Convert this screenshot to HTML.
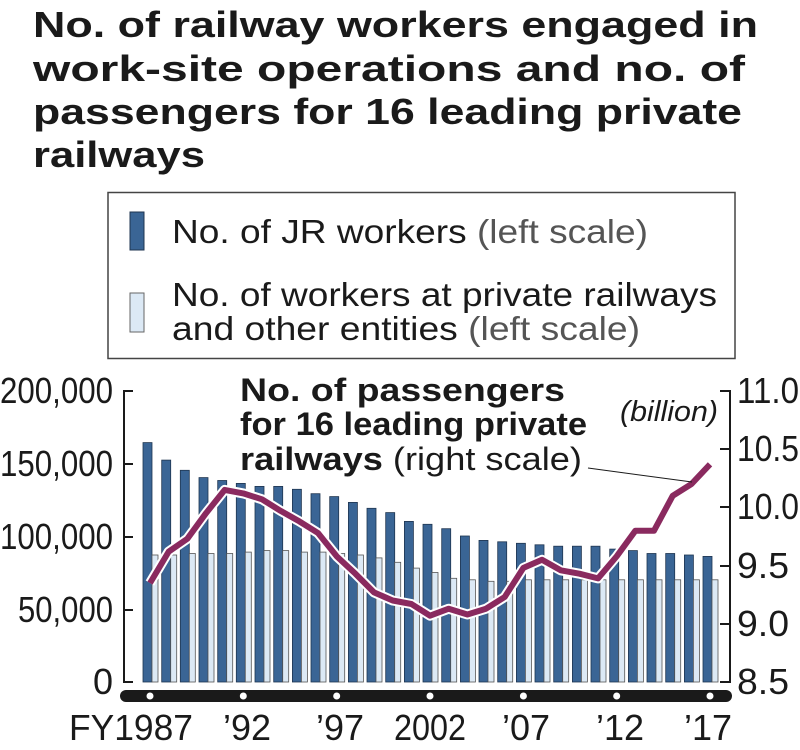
<!DOCTYPE html>
<html><head><meta charset="utf-8"><style>
html,body{margin:0;padding:0;background:#fff;}
svg{display:block;font-family:"Liberation Sans",Arial,sans-serif;}
</style></head><body>
<svg width="800" height="750" viewBox="0 0 800 750" xmlns="http://www.w3.org/2000/svg">
<g font-weight="bold" font-size="36" fill="#1a1a1a">
<text x="33" y="37" textLength="725" lengthAdjust="spacingAndGlyphs">No. of railway workers engaged in</text>
<text x="33" y="81" textLength="712" lengthAdjust="spacingAndGlyphs">work-site operations and no. of</text>
<text x="33" y="124" textLength="709" lengthAdjust="spacingAndGlyphs">passengers for 16 leading private</text>
<text x="33" y="167" textLength="172" lengthAdjust="spacingAndGlyphs">railways</text>
</g>
<rect x="108" y="192.5" width="627" height="166" fill="#fff" stroke="#444" stroke-width="1.5"/>
<rect x="130" y="212" width="14" height="38" fill="#3a6595" stroke="#1f3550" stroke-width="1"/>
<rect x="130" y="293" width="14" height="39" fill="#dce9f5" stroke="#666" stroke-width="1"/>
<g font-size="33" fill="#1a1a1a">
<text x="172" y="243" textLength="476" lengthAdjust="spacingAndGlyphs">No. of JR workers <tspan fill="#555">(left scale)</tspan></text>
<text x="172" y="306" textLength="545" lengthAdjust="spacingAndGlyphs">No. of workers at private railways</text>
<text x="172" y="340" textLength="468" lengthAdjust="spacingAndGlyphs">and other entities <tspan fill="#555">(left scale)</tspan></text>
</g>
<g fill="#3a6595" stroke="#1f3550" stroke-width="0.8">
<rect x="143" y="442.6" width="9" height="239.4"/>
<rect x="161.7" y="460.1" width="9" height="221.9"/>
<rect x="180.3" y="470.3" width="9" height="211.7"/>
<rect x="199" y="477.6" width="9" height="204.4"/>
<rect x="217.7" y="480.5" width="9" height="201.5"/>
<rect x="236.3" y="483.4" width="9" height="198.6"/>
<rect x="255" y="486.4" width="9" height="195.6"/>
<rect x="273.7" y="486.4" width="9" height="195.6"/>
<rect x="292.4" y="489.3" width="9" height="192.7"/>
<rect x="311" y="493.7" width="9" height="188.3"/>
<rect x="329.7" y="496.6" width="9" height="185.4"/>
<rect x="348.4" y="502.4" width="9" height="179.6"/>
<rect x="367" y="508.3" width="9" height="173.7"/>
<rect x="385.7" y="512.6" width="9" height="169.4"/>
<rect x="404.4" y="521.4" width="9" height="160.6"/>
<rect x="423" y="524.3" width="9" height="157.7"/>
<rect x="441.7" y="528.7" width="9" height="153.3"/>
<rect x="460.4" y="536" width="9" height="146"/>
<rect x="479" y="540.4" width="9" height="141.6"/>
<rect x="497.7" y="541.8" width="9" height="140.2"/>
<rect x="516.4" y="543.3" width="9" height="138.7"/>
<rect x="535" y="544.8" width="9" height="137.2"/>
<rect x="553.7" y="546.2" width="9" height="135.8"/>
<rect x="572.4" y="546.2" width="9" height="135.8"/>
<rect x="591" y="546.2" width="9" height="135.8"/>
<rect x="609.7" y="549.1" width="9" height="132.9"/>
<rect x="628.4" y="550.6" width="9" height="131.4"/>
<rect x="647" y="553.5" width="9" height="128.5"/>
<rect x="665.7" y="553.5" width="9" height="128.5"/>
<rect x="684.4" y="555" width="9" height="127"/>
<rect x="703" y="556.4" width="9" height="125.6"/>
</g>
<g fill="#dce9f5" stroke="#555" stroke-width="0.8">
<rect x="152" y="555" width="6" height="127"/>
<rect x="170.7" y="555" width="6" height="127"/>
<rect x="189.3" y="553.5" width="6" height="128.5"/>
<rect x="208" y="553.5" width="6" height="128.5"/>
<rect x="226.7" y="553.5" width="6" height="128.5"/>
<rect x="245.3" y="552.1" width="6" height="129.9"/>
<rect x="264" y="550.6" width="6" height="131.4"/>
<rect x="282.7" y="550.6" width="6" height="131.4"/>
<rect x="301.4" y="552.1" width="6" height="129.9"/>
<rect x="320" y="552.1" width="6" height="129.9"/>
<rect x="338.7" y="553.5" width="6" height="128.5"/>
<rect x="357.4" y="555" width="6" height="127"/>
<rect x="376" y="557.9" width="6" height="124.1"/>
<rect x="394.7" y="562.3" width="6" height="119.7"/>
<rect x="413.4" y="568.1" width="6" height="113.9"/>
<rect x="432" y="572.5" width="6" height="109.5"/>
<rect x="450.7" y="578.3" width="6" height="103.7"/>
<rect x="469.4" y="579.8" width="6" height="102.2"/>
<rect x="488" y="581.3" width="6" height="100.7"/>
<rect x="506.7" y="581.3" width="6" height="100.7"/>
<rect x="525.4" y="579.8" width="6" height="102.2"/>
<rect x="544" y="579.8" width="6" height="102.2"/>
<rect x="562.7" y="579.8" width="6" height="102.2"/>
<rect x="581.4" y="579.8" width="6" height="102.2"/>
<rect x="600" y="579.8" width="6" height="102.2"/>
<rect x="618.7" y="579.8" width="6" height="102.2"/>
<rect x="637.4" y="579.8" width="6" height="102.2"/>
<rect x="656" y="579.8" width="6" height="102.2"/>
<rect x="674.7" y="579.8" width="6" height="102.2"/>
<rect x="693.4" y="579.8" width="6" height="102.2"/>
<rect x="712" y="579.8" width="6" height="102.2"/>
</g>
<g stroke="#1a1a1a" stroke-width="2" fill="none">
<path d="M133,391 H124 V682 H133"/>
<path d="M124,464 H133 M124,537 H133 M124,610 H133"/>
<path d="M720,391 H730 V682 H720"/>
<path d="M720,449 H730 M720,507 H730 M720,566 H730 M720,624 H730"/>
</g>
<g font-size="36" fill="#1a1a1a" text-anchor="end">
<text x="113" y="403" textLength="113" lengthAdjust="spacingAndGlyphs">200,000</text>
<text x="113" y="476" textLength="113" lengthAdjust="spacingAndGlyphs">150,000</text>
<text x="113" y="549" textLength="113" lengthAdjust="spacingAndGlyphs">100,000</text>
<text x="113" y="622" textLength="95" lengthAdjust="spacingAndGlyphs">50,000</text>
<text x="113" y="694">0</text>
</g>
<g font-size="36" fill="#1a1a1a">
<text x="737" y="403" textLength="62" lengthAdjust="spacingAndGlyphs">11.0</text>
<text x="737" y="461" textLength="62" lengthAdjust="spacingAndGlyphs">10.5</text>
<text x="737" y="519" textLength="62" lengthAdjust="spacingAndGlyphs">10.0</text>
<text x="737" y="578" textLength="52" lengthAdjust="spacingAndGlyphs">9.5</text>
<text x="737" y="636" textLength="52" lengthAdjust="spacingAndGlyphs">9.0</text>
<text x="737" y="694" textLength="52" lengthAdjust="spacingAndGlyphs">8.5</text>
</g>
<rect x="120" y="690" width="612" height="12" rx="6" fill="#1a1a1a"/>
<g fill="#fff">
<circle cx="150" cy="696" r="3.5"/><circle cx="243.3" cy="696" r="3.5"/><circle cx="336.7" cy="696" r="3.5"/><circle cx="430" cy="696" r="3.5"/><circle cx="523.4" cy="696" r="3.5"/><circle cx="616.7" cy="696" r="3.5"/><circle cx="710" cy="696" r="3.5"/>
</g>
<g font-size="36" fill="#1a1a1a" text-anchor="middle">
<text x="131" y="740" textLength="124" lengthAdjust="spacingAndGlyphs">FY1987</text>
<text x="247" y="740">’92</text>
<text x="340" y="740">’97</text>
<text x="430" y="740" textLength="72" lengthAdjust="spacingAndGlyphs">2002</text>
<text x="526" y="740">’07</text>
<text x="620" y="740">’12</text>
<text x="708" y="740">’17</text>
</g>
<polyline fill="none" stroke="#fff" stroke-width="10" stroke-linejoin="round" points="150,583.1 168.7,551.6 187.3,538.8 206,513.2 224.7,489.9 243.3,493.4 262,499.3 280.7,510.9 299.4,521.4 318,533 336.7,556.3 355.4,573.7 374,592.4 392.7,600.5 411.4,604 430,615.7 448.7,608.7 467.4,614.5 486,608.7 504.7,597 523.4,567.9 542,559.8 560.7,570.3 579.4,573.7 598,578.4 616.7,556.3 635.4,530.7 654,530.7 672.7,495.8 691.4,484.1 710,464.3"/>
<polyline fill="none" stroke="#8a2a5f" stroke-width="6" stroke-linejoin="round" points="150,583.1 168.7,551.6 187.3,538.8 206,513.2 224.7,489.9 243.3,493.4 262,499.3 280.7,510.9 299.4,521.4 318,533 336.7,556.3 355.4,573.7 374,592.4 392.7,600.5 411.4,604 430,615.7 448.7,608.7 467.4,614.5 486,608.7 504.7,597 523.4,567.9 542,559.8 560.7,570.3 579.4,573.7 598,578.4 616.7,556.3 635.4,530.7 654,530.7 672.7,495.8 691.4,484.1 710,464.3"/>
<line x1="588" y1="468" x2="692" y2="482" stroke="#1a1a1a" stroke-width="1"/>
<g font-size="32" fill="#1a1a1a">
<text x="240" y="401" font-weight="bold" textLength="325" lengthAdjust="spacingAndGlyphs">No. of passengers</text>
<text x="240" y="435" font-weight="bold" textLength="347" lengthAdjust="spacingAndGlyphs">for 16 leading private</text>
<text x="240" y="470" textLength="342" lengthAdjust="spacingAndGlyphs"><tspan font-weight="bold">railways</tspan> (right scale)</text>
<text x="620" y="421" font-style="italic" font-size="29" textLength="98" lengthAdjust="spacingAndGlyphs">(billion)</text>
</g>
</svg>
</body></html>
